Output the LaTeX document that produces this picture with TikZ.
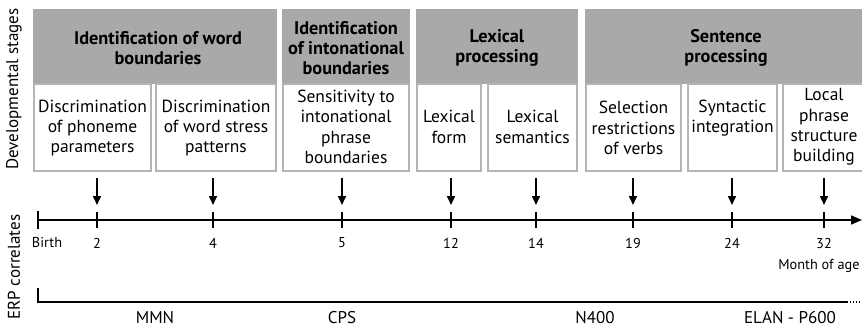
\documentclass[tikz,border=0pt]{standalone}
\usepackage{fontspec}
\setmainfont{PT Sans}
\usetikzlibrary{arrows.meta}
\definecolor{headgray}{HTML}{A9A9A9}
\definecolor{bordergray}{HTML}{B4B4B4}
\begin{document}
\begin{tikzpicture}[x=1pt,y=-1pt,
  header/.style={fill=headgray, draw=none, inner sep=0pt},
  headtext/.style={font=\bfseries\fontsize{18.3}{20}\selectfont, align=center, inner sep=0pt},
  stagebox/.style={draw=bordergray, line width=1.6pt, fill=white, inner sep=0pt},
  stagetext/.style={font=\fontsize{17.5}{20.3}\selectfont, align=center, inner sep=0pt},
  tick/.style={line width=1.4pt},
  down/.style={line width=1.6pt, -{Triangle[length=9pt,width=8pt]}},
  small/.style={font=\fontsize{14.3}{16}\selectfont, inner sep=0pt},
  erp/.style={font=\fontsize{17}{20}\selectfont, inner sep=0pt},
  side/.style={font=\fontsize{17}{20}\selectfont, rotate=90, inner sep=0pt}]
\useasboundingbox (0,0) rectangle (862,329);

% developmental stage headers
\path[header] (33,9) rectangle (277,84);
\path[header] (282,9) rectangle (410,84);
\path[header] (416,9) rectangle (578,84);
\path[header] (585,9) rectangle (864,84);
\node[headtext] (h1) at (158,48) {Identification of word\\boundaries};
\node[headtext] (h2) at (346,48) {Identification\\of intonational\\boundaries};
\node[headtext] (h3) at (497,48) {Lexical\\processing};
\node[headtext] (h4) at (726,48) {Sentence\\processing};

% individual stages
\draw[stagebox] (34,84) rectangle (151,171);
\draw[stagebox] (156,84) rectangle (276,171);
\draw[stagebox] (283,84) rectangle (409,171);
\draw[stagebox] (417,84) rectangle (481,171);
\draw[stagebox] (488,84) rectangle (577,171);
\draw[stagebox] (586,84) rectangle (681,171);
\draw[stagebox] (688,84) rectangle (777,171);
\draw[stagebox] (783,84) rectangle (866,171);
\node[stagetext] (s1) at (92.5,128) {Discrimination\\of phoneme\\parameters};
\node[stagetext] (s2) at (216,128) {Discrimination\\of word stress\\patterns};
\node[stagetext] (s3) at (346,127) {Sensitivity to\\intonational\\phrase\\boundaries};
\node[stagetext] (s4) at (449,127) {Lexical\\form};
\node[stagetext] (s5) at (532.5,127) {Lexical\\semantics};
\node[stagetext] (s6) at (633.5,128) {Selection\\restrictions\\of verbs};
\node[stagetext] (s7) at (732.5,118) {Syntactic\\integration};
\node[stagetext] (s8) at (824,127) {Local\\phrase\\structure\\building};

% side labels
\node[side] (dev) at (14,89) {Developmental stages};
\node[side] (erp) at (14,267) {ERP correlates};

% age axis
\coordinate (t0) at (38,220);
\coordinate (tend) at (862,220);
\draw[line width=1.6pt, -{Triangle[length=11pt,width=9pt]}] (t0) -- (tend);
\draw[tick] (38,211) -- (38,229);
\node[small] (birth) at (47,243) {Birth};
\foreach \x/\m in {97/2,213/4,342/5,451/12,536/14,633/19,732/24,824/32}{
  \coordinate (a\m) at (\x,178);
  \coordinate (b\m) at (\x,205);
  \draw[tick] (\x,212) -- (\x,228);
  \draw[down] (a\m) -- (b\m);
  \node[small] (n\m) at (\x,243) {\m};
}
\node[small] (month) at (819,266) {Month of age};

% ERP correlates line
\coordinate (e0) at (38,288);
\coordinate (e1) at (847,302);
\coordinate (e2) at (862,302);
\draw[line width=1.6pt] (e0) |- (e1);
\draw[line width=1.4pt, dash pattern=on 1.4pt off 1.6pt] (e1) -- (e2);
\node[erp] (mmn) at (155,318) {MMN};
\node[erp] (cps) at (342,318) {CPS};
\node[erp] (n400) at (595,318) {N400};
\node[erp] (elan) at (790,318) {ELAN - P600};
\end{tikzpicture}
\end{document}
